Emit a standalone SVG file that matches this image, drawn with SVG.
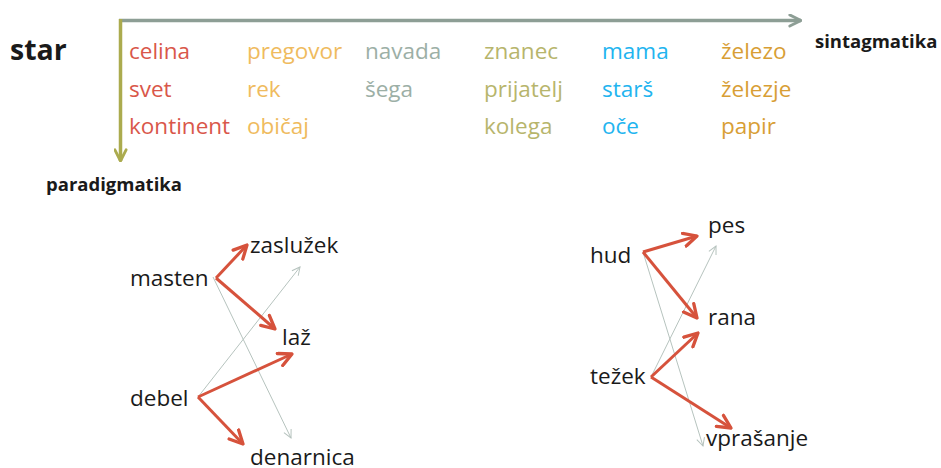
<svg xmlns="http://www.w3.org/2000/svg" width="941" height="468" viewBox="0 0 941 468">
  <style>
    text { font-family: "Open Sans", Lato, "DejaVu Sans", sans-serif; }
    .w { font-size: 22.5px; }
    .b { font-weight: bold; fill: #1a1a1a; }
    .k { fill: #1a1a1a; font-size: 22.5px; }
    .c1 { fill: #d9574a; }
    .c2 { fill: #efbb5e; }
    .c3 { fill: #9cafa6; }
    .c4 { fill: #b7b56c; }
    .c5 { fill: #22b4ef; }
    .c6 { fill: #d89e35; }
    .red { stroke: #d6523c; stroke-width: 3; fill: none; marker-end: url(#ah-red); }
    .thin { stroke: #b6c3be; stroke-width: 1; fill: none; marker-end: url(#ah-thin); }
  </style>
  <defs>
    <marker id="ah-red" viewBox="0 0 10 10" refX="9" refY="5" markerWidth="5.5" markerHeight="5.5" orient="auto" markerUnits="strokeWidth">
      <path d="M1,1 L9,5 L1,9" fill="none" stroke="#d6523c" stroke-width="2" stroke-linecap="round" stroke-linejoin="round"/>
    </marker>
    <marker id="ah-thin" viewBox="0 0 10 10" refX="9" refY="5" markerWidth="10" markerHeight="10" orient="auto" markerUnits="strokeWidth">
      <path d="M1,1 L9,5 L1,9" fill="none" stroke="#b6c3be" stroke-width="1"/>
    </marker>
    <marker id="ah-h" viewBox="0 0 10 10" refX="9" refY="5" markerWidth="4" markerHeight="4" orient="auto" markerUnits="strokeWidth">
      <path d="M1,1 L9,5 L1,9" fill="none" stroke="#8d9e95" stroke-width="2" stroke-linecap="round" stroke-linejoin="round"/>
    </marker>
    <marker id="ah-v" viewBox="0 0 10 10" refX="9" refY="5" markerWidth="4" markerHeight="4" orient="auto" markerUnits="strokeWidth">
      <path d="M1,1 L9,5 L1,9" fill="none" stroke="#abab4e" stroke-width="2" stroke-linecap="round" stroke-linejoin="round"/>
    </marker>
  </defs>

  <!-- axes -->
  <g id="axes">
    <line x1="119" y1="20.5" x2="801" y2="20.5" stroke="#8d9e95" stroke-width="3.5" marker-end="url(#ah-h)"/>
    <line x1="120.5" y1="19" x2="120.5" y2="161" stroke="#abab4e" stroke-width="3.5" marker-end="url(#ah-v)"/>
    <text x="10" y="60" class="b" font-size="28.5">star</text>
    <text x="815" y="48" class="b" font-size="18.5">sintagmatika</text>
    <text x="46" y="191" class="b" font-size="18.5">paradigmatika</text>
  </g>

  <!-- word columns -->
  <g id="col-celina" class="w c1">
    <text x="129" y="59">celina</text>
    <text x="129" y="97">svet</text>
    <text x="129" y="134">kontinent</text>
  </g>
  <g id="col-pregovor" class="w c2">
    <text x="247" y="59">pregovor</text>
    <text x="247" y="97">rek</text>
    <text x="247" y="134">običaj</text>
  </g>
  <g id="col-navada" class="w c3">
    <text x="365" y="59">navada</text>
    <text x="365" y="97">šega</text>
  </g>
  <g id="col-znanec" class="w c4">
    <text x="484" y="59">znanec</text>
    <text x="484" y="97">prijatelj</text>
    <text x="484" y="134">kolega</text>
  </g>
  <g id="col-mama" class="w c5">
    <text x="602" y="59">mama</text>
    <text x="602" y="97">starš</text>
    <text x="602" y="134">oče</text>
  </g>
  <g id="col-zelezo" class="w c6">
    <text x="721" y="59">železo</text>
    <text x="721" y="97">železje</text>
    <text x="721" y="134">papir</text>
  </g>

  <!-- collocation nodes -->
  <g id="n-masten"><text x="130" y="286" class="k">masten</text></g>
  <g id="n-zasluzek"><text x="250" y="253" class="k">zaslužek</text></g>
  <g id="n-laz"><text x="282" y="345" class="k">laž</text></g>
  <g id="n-debel"><text x="130" y="406" class="k">debel</text></g>
  <g id="n-denarnica"><text x="250" y="465" class="k">denarnica</text></g>
  <g id="n-hud"><text x="590" y="263" class="k">hud</text></g>
  <g id="n-pes"><text x="708" y="233" class="k">pes</text></g>
  <g id="n-rana"><text x="708" y="325" class="k">rana</text></g>
  <g id="n-tezek"><text x="590" y="384" class="k">težek</text></g>
  <g id="n-vprasanje"><text x="706" y="446" class="k">vprašanje</text></g>

  <!-- connectors -->
  <g id="connectors">
    <line class="thin" x1="213" y1="277" x2="291" y2="438"/>
    <line class="thin" x1="198" y1="397" x2="300" y2="267"/>
    <line class="red" x1="216" y1="278" x2="247" y2="245"/>
    <line class="red" x1="216" y1="278" x2="275" y2="329"/>
    <line class="red" x1="198" y1="397" x2="292" y2="354"/>
    <line class="red" x1="198" y1="397" x2="243" y2="444"/>

    <line class="thin" x1="643" y1="252" x2="703" y2="446"/>
    <line class="thin" x1="651" y1="377" x2="716" y2="246"/>
    <line class="red" x1="643" y1="252" x2="697" y2="236"/>
    <line class="red" x1="643" y1="252" x2="697" y2="318"/>
    <line class="red" x1="651" y1="377" x2="698" y2="333"/>
    <line class="red" x1="651" y1="377" x2="731" y2="428"/>
  </g>
</svg>
